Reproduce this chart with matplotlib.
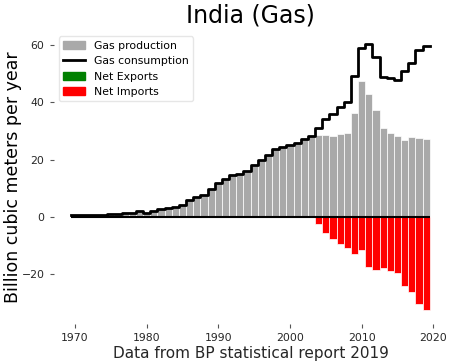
import numpy as np
import matplotlib
matplotlib.use("Agg")
import matplotlib.pyplot as plt
from matplotlib.patches import Patch
from matplotlib.lines import Line2D

years = np.arange(1970, 2020)

production = [
    0.6, 0.6, 0.7, 0.8, 0.8, 1.0, 1.1, 1.3, 1.5, 2.0,
    1.3, 2.1, 2.7, 3.1, 3.6, 4.2, 5.9, 6.8, 7.8, 9.8,
    11.7, 13.1, 14.6, 15.0, 16.0, 18.1, 19.8, 21.6, 23.5, 24.2,
    25.0, 25.6, 27.0, 28.3, 28.4, 28.5, 28.2, 28.9, 29.3, 36.1,
    47.4, 42.8, 37.2, 31.1, 29.3, 28.2, 26.8, 27.7, 27.6, 27.0,
]

consumption = [
    0.6, 0.6, 0.7, 0.8, 0.8, 1.0, 1.1, 1.3, 1.5, 2.0,
    1.3, 2.1, 2.7, 3.1, 3.6, 4.2, 5.9, 6.8, 7.8, 9.8,
    11.7, 13.1, 14.6, 15.0, 16.0, 18.1, 19.8, 21.6, 23.5, 24.2,
    25.0, 25.6, 27.0, 28.3, 30.9, 34.2, 35.9, 38.3, 40.0, 49.0,
    59.0, 60.2, 55.6, 48.9, 48.3, 47.8, 50.8, 53.8, 58.0, 59.6,
]

title = "India (Gas)"
xlabel = "Data from BP statistical report 2019"
ylabel = "Billion cubic meters per year"
xticks = [1970, 1980, 1990, 2000, 2010, 2020]
yticks = [-20, 0, 20, 40, 60]

prod = np.array(production)
cons = np.array(consumption)
net = prod - cons
exports = np.where(net > 0, net, 0)
imports = np.where(net < 0, net, 0)

fig = plt.figure(figsize=(4.5, 3.64), dpi=100)
ax = fig.add_axes([0.119, 0.11, 0.876, 0.805])

ax.bar(years, prod, width=1.0, color="darkgrey", edgecolor="white", linewidth=0.5)
ax.bar(years, exports, width=1.0, color="green", edgecolor="white", linewidth=0.5)
ax.bar(years, imports, width=1.0, color="red", edgecolor="white", linewidth=0.5)

edges = np.append(years - 0.5, years[-1] + 0.5)
ax.hlines(0, edges[0], edges[-1], color="black", linewidth=1.5)
ax.step(edges, np.append(cons, cons[-1]), where="post", color="black", linewidth=2.0)

ax.set_xlim(1967, 2022)
ax.set_ylim(-37.3, 64.8)
ax.set_xticks(xticks)
ax.set_yticks(yticks)
for s in ax.spines.values():
    s.set_visible(False)
ax.tick_params(length=3, width=0.8, color="#555555", labelcolor="#262626", labelsize=7.8)

ax.set_title(title, fontsize=17)
ax.set_xlabel(xlabel, fontsize=11, color="#262626", labelpad=2)
ax.set_ylabel(ylabel, fontsize=12.5, color="black")
ax.yaxis.set_label_coords(-0.0805, 0.5)

handles = [
    Patch(color="darkgrey", label="Gas production"),
    Line2D([0], [0], color="black", linewidth=2.0, label="Gas consumption"),
    Patch(color="green", label="Net Exports"),
    Patch(color="red", label="Net Imports"),
]
ax.legend(handles=handles, loc="upper left", fontsize=7.8, frameon=True,
          edgecolor="#e0e0e0", fancybox=True)

fig.savefig("out.png", dpi=100)
